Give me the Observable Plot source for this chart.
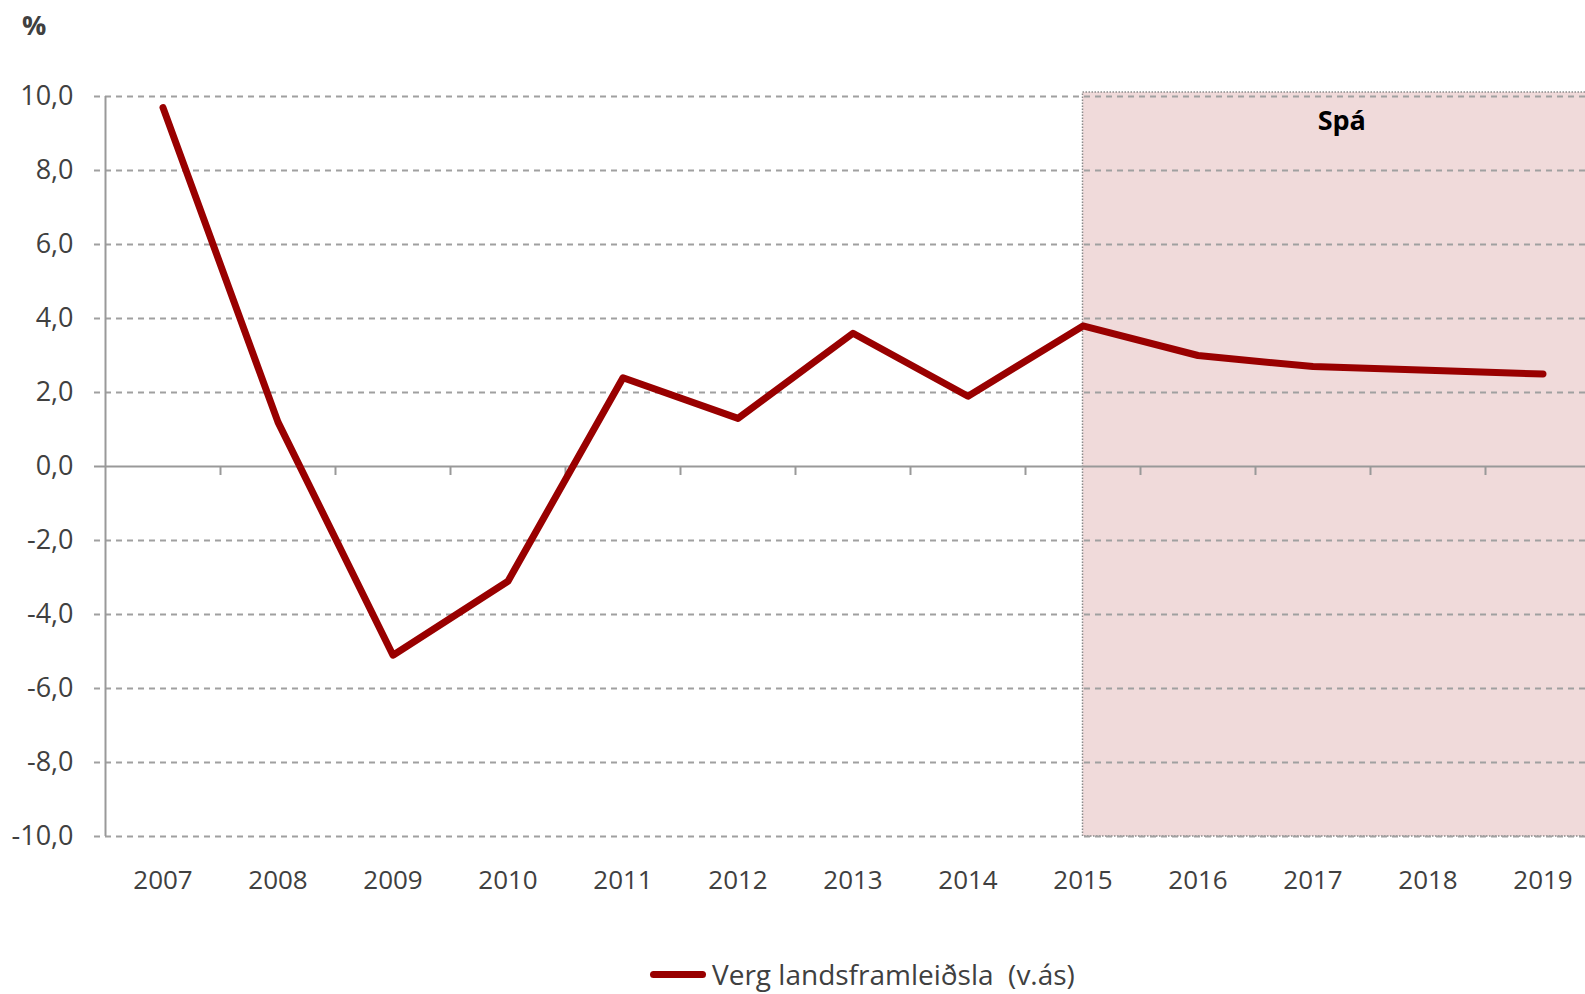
<!DOCTYPE html>
<html><head><meta charset="utf-8">
<script src="https://cdn.jsdelivr.net/npm/d3@7"></script>
<script src="https://cdn.jsdelivr.net/npm/@observablehq/plot@0.6"></script>
<style>
body{margin:0;overflow:hidden;background:#fff;font-family:"Open Sans",sans-serif;}
#wrap{position:relative;width:1585px;height:994px;overflow:hidden;}
#pct{position:absolute;left:22px;top:6px;font-size:27px;font-weight:bold;color:#404040;}
#chart{position:absolute;left:0;top:0;}
#legend{position:absolute;left:650px;top:955px;display:flex;align-items:center;font-size:28px;color:#404040;white-space:pre;}
#legend .sw{width:56px;height:7px;background:#990000;border-radius:4px;margin-right:6px;}
</style></head>
<body>
<div id="wrap">
  <div id="chart"></div>
  <div id="pct">%</div>
  <div id="legend"><span class="sw"></span><span id="legtext"></span></div>
</div>
<script>
const years = [2007, 2008, 2009, 2010, 2011, 2012, 2013, 2014, 2015, 2016, 2017, 2018, 2019];
const gdp = [9.7, 1.2, -5.1, -3.1, 2.4, 1.3, 3.6, 1.9, 3.8, 3.0, 2.7, 2.6, 2.5];
const yTicks = [-10, -8, -6, -4, -2, 0, 2, 4, 6, 8, 10];
const forecastStart = 2015;
const forecastLabel = "Spá";
const seriesName = "Verg landsframleiðsla  (v.ás)";
const unitLabel = "%";

document.getElementById("legtext").textContent = seriesName;
document.getElementById("pct").textContent = unitLabel;

const data = years.map((year, i) => ({year, value: gdp[i]}));
const x0 = years[0] - 0.5, x1 = years[years.length - 1] + 0.5;
const boundaries = years.slice(1).map(y => y - 0.5);
const fmt = d => (d < 0 ? "-" : "") + Math.abs(d).toFixed(1).replace(".", ",");

const chart = Plot.plot({
  width: 1585,
  height: 920,
  marginTop: 96,
  marginBottom: 84,
  marginLeft: 105,
  marginRight: 0,
  style: {fontFamily: "Open Sans", fontSize: "26px", color: "#404040", background: "transparent", overflow: "visible"},
  x: {type: "linear", domain: [x0, x1], range: [105, 1600]},
  y: {domain: [-10, 10], range: [836, 96]},
  marks: [
    Plot.rect([forecastStart], {x1: d => d, x2: () => x1, y1: () => -10, y2: () => 10,
      fill: "#f0dada", stroke: "#8a8a8a", strokeWidth: 1.5, strokeDasharray: "1.5,1.5", insetTop: -4}),
    Plot.ruleY(yTicks.filter(d => d !== 0), {stroke: "#a0a0a0", strokeWidth: 2, strokeDasharray: "6,5", insetLeft: -11}),
    Plot.ruleY([0], {stroke: "#999", strokeWidth: 2, insetLeft: -11}),
    Plot.ruleX(boundaries, {y1: () => 0, y2: () => 0, insetBottom: -9, stroke: "#999", strokeWidth: 2}),
    Plot.ruleX([x0], {stroke: "#999", strokeWidth: 2}),
    Plot.axisY({ticks: yTicks, tickSize: 0, tickPadding: 32, tickFormat: fmt, label: null, fontSize: 27}),
    Plot.axisX({ticks: years, tickSize: 0, tickPadding: 34, tickFormat: d => String(d), label: null}),
    Plot.line(data, {x: "year", y: "value", stroke: "#990000", strokeWidth: 7, strokeLinecap: "round", strokeLinejoin: "round"}),
    Plot.text([forecastLabel], {x: () => (forecastStart + years[years.length - 1]) / 2 + 0.25, y: () => 10, dy: 25,
      text: d => d, fontWeight: "bold", fontSize: 27, fill: "#000"})
  ]
});
document.getElementById("chart").appendChild(chart);
</script>
</body></html>
